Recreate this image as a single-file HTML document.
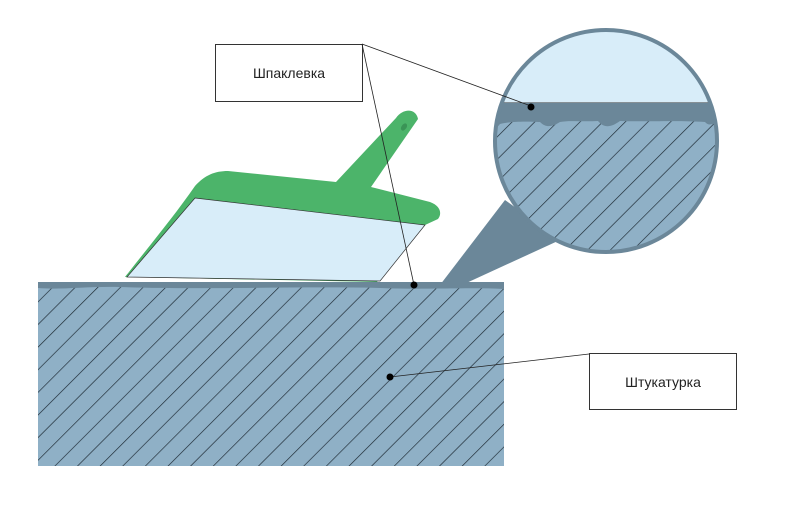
<!DOCTYPE html>
<html><head><meta charset="utf-8"><style>body{margin:0;background:#fff}svg{display:block}</style></head><body>
<svg width="800" height="514" viewBox="0 0 800 514" xmlns="http://www.w3.org/2000/svg">
<defs>
<pattern id="h" patternUnits="userSpaceOnUse" width="16" height="16" patternTransform="rotate(45)">
<rect width="16" height="16" fill="#8fb0c6"/><line x1="0" y1="0" x2="0" y2="16" stroke="#1a2630" stroke-width="1.3"/>
</pattern>
<pattern id="h2" patternUnits="userSpaceOnUse" width="16" height="16" patternTransform="rotate(45)">
<rect width="16" height="16" fill="#8fb0c6"/><line x1="0" y1="0" x2="0" y2="16" stroke="#1a2630" stroke-width="1.3"/>
</pattern>
<clipPath id="c"><circle cx="606" cy="141" r="111"/></clipPath>
</defs>
<polygon points="440,285 505,200 560,240 462,285" fill="#6b8799"/>
<rect x="38" y="282" width="466" height="184" fill="url(#h)"/>
<path d="M38,282 H504 V289 C470,287 420,290 380,288 C300,286 200,290 120,287 C90,286 60,290 38,288 Z" fill="#6b8799"/>
<g clip-path="url(#c)">
<rect x="490" y="25" width="235" height="235" fill="url(#h2)"/>
<rect x="490" y="25" width="235" height="78" fill="#d8edf9"/>
<line x1="490" y1="103" x2="720" y2="103" stroke="#333" stroke-width="1"/>
<path d="M490,103 H725 V122 C715,121 710,128 705,122 C680,120 640,122 620,121 C610,128 604,128 598,121 C580,122 570,120 560,122 C552,127 546,128 540,122 C520,121 508,122 500,124 C497,128 494,128 490,122 Z" fill="#6b8799"/>
</g>
<circle cx="606" cy="141" r="111" fill="none" stroke="#6b8799" stroke-width="4"/>
<path d="M195,186 C205,175 215,171 228,171 L336,182 L396,118 C403,108 416,108 418,119 L371,187 L430,202 C441,206 442,214 438,219 L425,225 L377,282 L125,277 C150,245 175,215 195,186 Z" fill="#4cb46a"/>
<ellipse cx="404" cy="127" rx="2.5" ry="4" transform="rotate(35 404 127)" fill="#3a9456"/>
<polygon points="195,198 425,225 380,281 127,277" fill="#d8edf9" stroke="#333" stroke-width="0.7"/>
<rect x="215.5" y="44.5" width="147" height="57" fill="#fff" stroke="#333"/>
<text x="289" y="78" font-family="Liberation Sans, sans-serif" font-size="14" text-anchor="middle" fill="#222">Шпаклевка</text>
<line x1="362" y1="44" x2="531" y2="106" stroke="#222" stroke-width="0.8"/>
<line x1="362" y1="44" x2="414" y2="285" stroke="#222" stroke-width="0.8"/>
<circle cx="531" cy="107" r="3.5" fill="#000"/>
<circle cx="414" cy="285" r="3.5" fill="#000"/>
<rect x="589.5" y="353.5" width="147" height="56" fill="#fff" stroke="#333"/>
<text x="663" y="387" font-family="Liberation Sans, sans-serif" font-size="14" text-anchor="middle" fill="#222">Штукатурка</text>
<line x1="589" y1="354" x2="390" y2="377" stroke="#222" stroke-width="0.8"/>
<circle cx="390" cy="377" r="3.5" fill="#000"/>
</svg>
</body></html>
